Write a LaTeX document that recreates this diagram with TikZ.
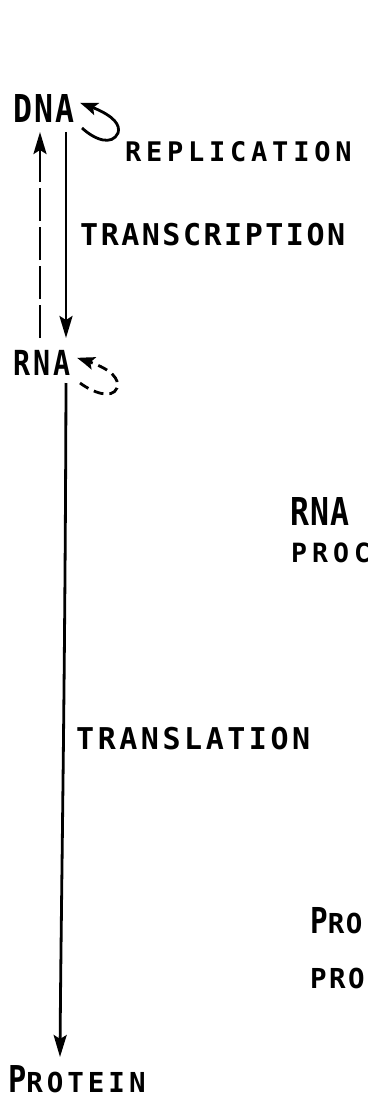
\documentclass[tikz,border=0pt]{standalone}
\usepackage{fontspec}
\usetikzlibrary{arrows.meta,calc,bending}
% small lettering: bold mono, letter-spaced
\newcommand\lf[2]{\fontspec{DejaVu Sans Mono}[LetterSpace=#2]\bfseries\fontsize{#1pt}{#1pt}\selectfont}
% large lettering: bold mono, condensed
\newcommand\lfr[2]{\fontspec{DejaVu Sans Mono}[LetterSpace=#2,FakeStretch=0.82]\bfseries\fontsize{#1pt}{#1pt}\selectfont}
\tikzset{
  txt/.style={inner sep=0pt, anchor=base west},
  conn/.style={line width=2.8pt},
  bighead/.style={-{Stealth[length=22pt,width=13pt,inset=4pt]}},
  loophead/.style={-{Stealth[length=18pt,width=13pt,inset=4pt,bend]}},
  longdash/.style={dash pattern=on 33pt off 6pt},
  shortdash/.style={dash pattern=on 10pt off 6pt}
}
\begin{document}
\begin{tikzpicture}[x=1pt,y=-1pt]
\useasboundingbox (0,0) rectangle (367,1099);
% labels
\node[txt,font=\lfr{38.4}{5.5}] (dna) at (13,123) {DNA};
\node[txt,font=\lf{27}{17.6}] (replication) at (125,162) {REPLICATION};
\node[txt,font=\lf{30}{8.4}] (transcription) at (80,245) {TRANSCRIPTION};
\node[txt,font=\lfr{34.5}{8.7}] (rna) at (13,375) {RNA};
\node[txt,font=\lfr{38.4}{2.9}] (rnaright) at (290,525) {RNA};
\node[txt,font=\lf{26.5}{19}] (proc) at (291,562) {PROC};
\node[txt,font=\lf{30}{11.8}] (translation) at (76,749) {TRANSLATION};
\node[txt] (protproc) at (310,933) {{\lfr{35.7}{15}P}{\lf{27.5}{5}RO}};
\node[txt,font=\lf{27.5}{9}] (proline) at (310,988) {PRO};
\node[txt] (protein) at (8,1092) {{\lfr{37}{12.7}P}{\lf{27.5}{14.4}ROTEIN}};
% connectors
\draw[conn,bighead] ($(dna.base west)+(53,9)$) -- ($(rna.base west)+(53,-37)$);
\draw[conn,bighead,longdash] ($(rna.base west)+(27,-37)$) -- ($(dna.base west)+(27,9)$);
\draw[conn,bighead] ($(rna.base west)+(53,8)$) .. controls ($(rna.base west)+(52,330)$) and ($(protein.base west)+(53,-190)$) .. ($(protein.base west)+(52,-35)$);
% self loops
\begin{scope}[shift={(dna.base west)}]
\draw[conn,loophead] (69,5) .. controls (82,17) and (99,23) .. (105,10) .. controls (108,1) and (99,-10) .. (67,-20);
\end{scope}
\begin{scope}[shift={(rna.base west)}]
\draw[conn,loophead,shortdash] (67,8) .. controls (79,17) and (99,25) .. (104,13) .. controls (107,3) and (97,-8) .. (64,-17);
\end{scope}
\end{tikzpicture}
\end{document}
